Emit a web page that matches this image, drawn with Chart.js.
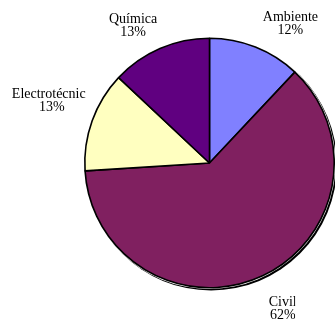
<!DOCTYPE html>
<html>
<head>
<meta charset="utf-8">
<script src="https://cdn.jsdelivr.net/npm/chart.js@4.4.1/dist/chart.umd.min.js"></script>
<style>
  html, body { margin: 0; padding: 0; background: #fff; }
  canvas { display: block; }
</style>
</head>
<body>
<canvas id="pie" width="335" height="322"></canvas>
<script>
// Students per department (%)
const categories = ['Ambiente', 'Civil', 'Electrotécnica', 'Química'];
const shares = [12, 62, 13, 13];

const sliceColors = ['#8080FF', '#802060', '#FFFFC0', '#600080'];

// Flat black drop shadow behind the pie, with a thin white gap
const pieShadow = {
    id: 'pieShadow',
    beforeDatasetsDraw(chart) {
        const arc = chart.getDatasetMeta(0).data[0];
        if (!arc) return;
        const { x, y, outerRadius } = arc.getProps(['x', 'y', 'outerRadius'], true);
        const ctx = chart.ctx;
        ctx.save();
        ctx.fillStyle = '#000';
        ctx.beginPath();
        ctx.arc(x + 1.6, y + 1.6, outerRadius + 1.2, 0, Math.PI * 2);
        ctx.fill();
        ctx.fillStyle = '#fff';
        ctx.beginPath();
        ctx.arc(x, y, outerRadius + 1.3, 0, Math.PI * 2);
        ctx.fill();
        ctx.restore();
    }
};

// Name + percentage outside each slice
const outsideLabels = {
    id: 'outsideLabels',
    afterDatasetsDraw(chart, args, opts) {
        const ctx = chart.ctx;
        const meta = chart.getDatasetMeta(0);
        ctx.save();
        ctx.font = opts.font;
        ctx.fillStyle = '#000';
        ctx.textAlign = 'center';
        ctx.textBaseline = 'alphabetic';
        meta.data.forEach((arc, i) => {
            const p = arc.getProps(['x', 'y', 'startAngle', 'endAngle', 'outerRadius'], true);
            const mid = (p.startAngle + p.endAngle) / 2;
            const dx = Math.cos(mid), dy = Math.sin(mid);
            const r = p.outerRadius + opts.gap;
            const [nx, ny] = opts.nudge[i];
            const lines = [categories[i], shares[i] + '%'];
            const w = Math.max(...lines.map(t => ctx.measureText(t).width));
            const h = lines.length * opts.lineHeight;
            const cx = p.x + r * dx + Math.sign(dx) * w / 2 + nx;
            const cy = p.y + r * dy + Math.sign(dy) * h / 2 + ny;
            const left = cx - w / 2, top = cy - h / 2;
            ctx.save();
            const clipW = opts.clipWidth[i];
            if (clipW) {
                ctx.beginPath();
                ctx.rect(left, top - 4, clipW, h + 8);
                ctx.clip();
            }
            lines.forEach((t, k) => {
                ctx.fillText(t, cx, top + (k + 1) * opts.lineHeight - 3);
            });
            ctx.restore();
        });
        ctx.restore();
    }
};

new Chart(document.getElementById('pie'), {
    type: 'pie',
    data: {
        labels: categories,
        datasets: [{
            data: shares,
            backgroundColor: sliceColors,
            borderColor: '#000',
            borderWidth: 1.6
        }]
    },
    options: {
        responsive: false,
        animation: false,
        layout: { padding: { left: 84, top: 37, right: 0, bottom: 33 } },
        plugins: {
            legend: { display: false },
            tooltip: { enabled: false },
            outsideLabels: {
                font: '14px "Liberation Serif", "Times New Roman", serif',
                lineHeight: 13,
                gap: 12,
                nudge: [[3, 1], [1, 9], [11, -3], [2, 1]],
                clipWidth: [0, 26.5, 74, 0]
            }
        }
    },
    plugins: [pieShadow, outsideLabels]
});
</script>
</body>
</html>
